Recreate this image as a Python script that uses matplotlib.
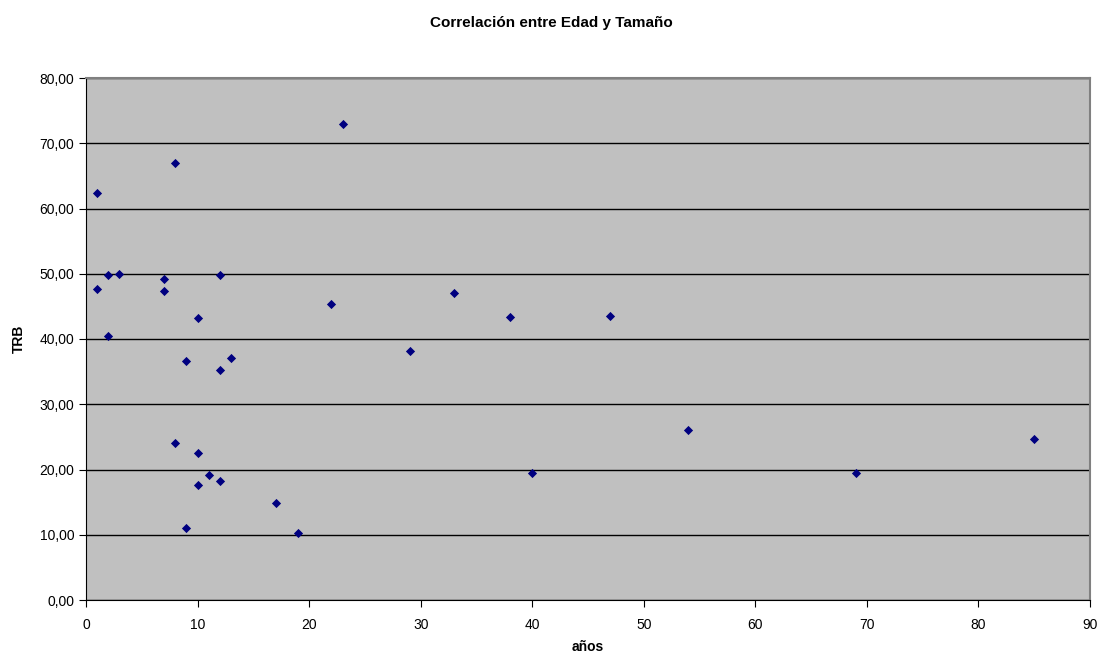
import matplotlib
matplotlib.use("Agg")
import matplotlib.pyplot as plt
from matplotlib.ticker import FuncFormatter, MultipleLocator

plt.rcParams['font.family'] = ['Liberation Sans', 'DejaVu Sans']

# edad (años) y tamaño (TRB)
anios = [1, 8, 23, 1, 2, 3, 2, 7, 7, 12, 10, 9, 13, 12, 8, 10, 11, 12, 10, 9,
         17, 19, 22, 29, 33, 38, 40, 47, 54, 69, 85]
trb = [62.4, 67.0, 73.0, 47.6, 49.8, 50.0, 40.5, 49.2, 47.3, 49.8, 43.2, 36.6,
       37.1, 35.2, 24.0, 22.6, 19.2, 18.3, 17.6, 11.0, 14.9, 10.2, 45.3, 38.2,
       47.0, 43.4, 19.4, 43.5, 26.0, 19.4, 24.6]

fig = plt.figure(figsize=(11.03, 6.58), dpi=100)
ax = fig.add_axes([86 / 1103, 1 - 600 / 658, (1090 - 86) / 1103, (600 - 78) / 658])
ax.set_facecolor('#C0C0C0')

ax.scatter(anios, trb, marker='D', s=22, color='#000080', zorder=3, linewidths=0)

ax.set_xlim(0, 90)
ax.set_ylim(0, 80)
ax.xaxis.set_major_locator(MultipleLocator(10))
ax.yaxis.set_major_locator(MultipleLocator(10))
ax.yaxis.set_major_formatter(FuncFormatter(lambda v, p: f"{v:.2f}".replace('.', ',')))
ax.grid(axis='y', color='black', linewidth=1)
ax.set_axisbelow(True)

# marco gris del área de trazado, ejes en negro
ax.spines['top'].set_color('#808080')
ax.spines['right'].set_color('#808080')
ax.spines['top'].set_linewidth(1.5)
ax.spines['right'].set_linewidth(1.5)
ax.spines['left'].set_color('black')
ax.spines['bottom'].set_color('black')
ax.tick_params(direction='out', length=5, color='black', labelsize=10)
ax.tick_params(axis='x', pad=8)

ax.set_xlabel('años', fontsize=10, fontweight='bold', labelpad=6)
ax.set_ylabel('TRB', fontsize=10, fontweight='bold', labelpad=10)
fig.suptitle('Correlación entre Edad y Tamaño', fontsize=11, fontweight='bold', y=1 - 23 / 658, va='center')

fig.savefig('out.png', dpi=100)
